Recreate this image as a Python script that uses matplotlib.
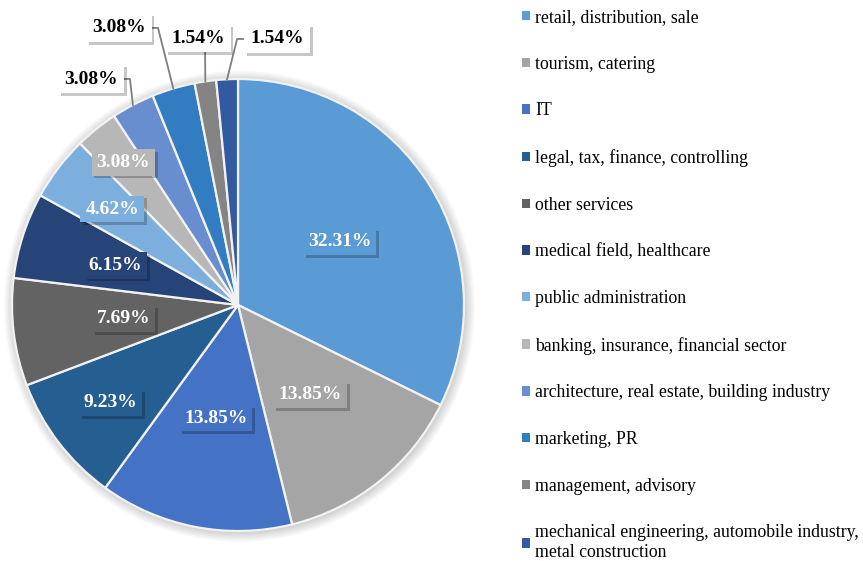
import numpy as np
import matplotlib.pyplot as plt
import matplotlib.patheffects as pe
from matplotlib.patches import Circle, Patch

plt.rcParams['font.family'] = ['Liberation Serif', 'DejaVu Serif']

# share of respondents by sector (%)
sectors = [
    'retail, distribution, sale',
    'tourism, catering',
    'IT',
    'legal, tax, finance, controlling',
    'other services',
    'medical field, healthcare',
    'public administration',
    'banking, insurance, financial sector',
    'architecture, real estate, building industry',
    'marketing, PR',
    'management, advisory',
    'mechanical engineering, automobile industry,\nmetal construction',
]
shares = [32.31, 13.85, 13.85, 9.23, 7.69, 6.15, 4.62, 3.08, 3.08, 3.08, 1.54, 1.54]
colors = ['#5B9BD5', '#A5A5A5', '#4472C4', '#255E91', '#636363', '#264478',
          '#7CAFDD', '#B7B7B7', '#698ED0', '#327DC2', '#848484', '#335AA1']

# label placement: radius fraction for labels inside the slices
inner_r = [0.53, 0.51, 0.51, 0.71, 0.51, 0.57, 0.70, 0.81]
# small slices get labels outside with leader lines: (text pos, elbow pos)
outer_pos = [((-0.650, 1.000), (-0.478, 1.000)),
             ((-0.527, 1.226), (-0.354, 1.226)),
             ((-0.177, 1.181), (-0.146, 1.181)),
             ((0.173, 1.177), (-0.004, 1.177))]

fig = plt.figure(figsize=(8.63, 5.61), dpi=100)
ax = fig.add_axes([0, 0, 480 / 863, 1])

wedges, _ = ax.pie(shares, colors=colors, startangle=90, counterclock=False,
                   radius=1, wedgeprops=dict(edgecolor='#f2f2f2', linewidth=1.6))
for w in wedges:
    w.set_zorder(1)

# pie() resets limits, so set them afterwards
ax.set_aspect('auto')
ax.set_xlim(-238 / 226, 242 / 226)
ax.set_ylim(-256 / 226, 305 / 226)
ax.axis('off')

# soft shadow around the pie
for i in range(8):
    ax.add_patch(Circle((0.006, -0.006), 1 + 0.006 * i, color='#000000',
                        alpha=0.022, lw=0, zorder=0))

shadow = [pe.withSimplePatchShadow(offset=(2, -2), shadow_rgbFace='k', alpha=0.22)]

for i, (w, v) in enumerate(zip(wedges, shares)):
    ang = np.deg2rad((w.theta1 + w.theta2) / 2)
    edge = (np.cos(ang), np.sin(ang))
    txt = f'{v:.2f}%'
    if i < len(inner_r):
        r = inner_r[i]
        t = ax.text(r * edge[0], r * edge[1], txt, ha='center', va='center',
                    fontsize=14, fontweight='bold', color='white', zorder=5,
                    bbox=dict(boxstyle='square,pad=0.25', fc=colors[i], ec='none'))
    else:
        (tx, ty), (ex, ey) = outer_pos[i - len(inner_r)]
        ax.plot([tx, ex, edge[0]], [ty, ey, edge[1]], color='#7f7f7f', lw=1.3, zorder=3)
        t = ax.text(tx, ty, txt, ha='center', va='center',
                    fontsize=14, fontweight='bold', color='black', zorder=5,
                    bbox=dict(boxstyle='square,pad=0.3', fc='white', ec='none'))
    t.get_bbox_patch().set_path_effects(shadow)

handles = [Patch(facecolor=c, edgecolor='none') for c in colors]
fig.legend(handles, sectors, loc='upper left', bbox_to_anchor=(522 / 863, 1 - 9 / 561),
           frameon=False, fontsize=12.8, handlelength=0.45, handleheight=0.45,
           handletextpad=0.3, labelspacing=1.67, borderpad=0, borderaxespad=0)

plt.savefig('out.png', dpi=100)
